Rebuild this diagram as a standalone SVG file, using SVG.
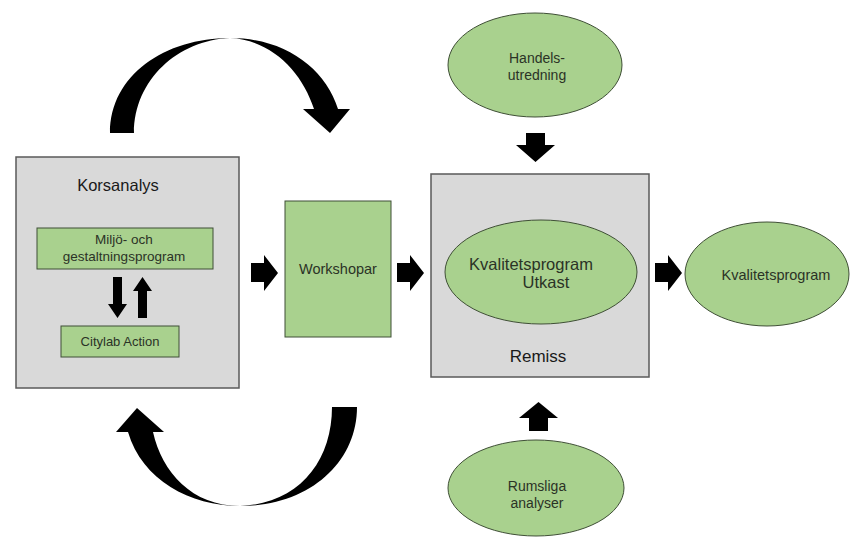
<svg xmlns="http://www.w3.org/2000/svg" width="857" height="539" viewBox="0 0 857 539">
<defs>
<style>
.bg{fill:#ffffff}
.gray{fill:#d9d9d9;stroke:#5a5a5a;stroke-width:1.5}
.green{fill:#a9d18e;stroke:#3f4f36;stroke-width:1}
.lbl{font-family:"Liberation Sans",Arial,sans-serif;fill:#2b3326;text-anchor:middle}
.ttl{font-family:"Liberation Sans",Arial,sans-serif;fill:#1a1a1a;text-anchor:middle}
.arr{fill:#000000}
</style>
</defs>
<rect class="bg" x="0" y="0" width="857" height="539"/>

<g id="korsanalys">
<rect class="gray" x="16" y="157" width="223" height="231"/>
<text class="ttl" x="118" y="191" font-size="16.5">Korsanalys</text>
</g>

<g id="miljo">
<rect class="green" x="37" y="228" width="176" height="41"/>
<text class="lbl" x="124" y="244" font-size="13.5">Miljö- och</text>
<text class="lbl" x="124" y="261" font-size="13.5">gestaltningsprogram</text>
</g>

<g id="citylab">
<rect class="green" x="61" y="326" width="118" height="31"/>
<text class="lbl" x="120" y="346" font-size="13">Citylab Action</text>
</g>

<g id="workshopar">
<rect class="green" x="285" y="201" width="106" height="136"/>
<text class="lbl" x="338" y="274" font-size="14.5">Workshopar</text>
</g>

<g id="remiss">
<rect class="gray" x="431" y="174" width="218" height="203"/>
<text class="ttl" x="538" y="362" font-size="17">Remiss</text>
</g>

<g id="utkast">
<ellipse class="green" cx="541" cy="272" rx="96" ry="52"/>
<text class="lbl" x="531" y="270" font-size="16.5">Kvalitetsprogram</text>
<text class="lbl" x="546" y="288" font-size="16.5">Utkast</text>
</g>

<g id="kvalitetsprogram">
<ellipse class="green" cx="767" cy="274" rx="82" ry="52"/>
<text class="lbl" x="776" y="280" font-size="14.5">Kvalitetsprogram</text>
</g>

<g id="handelsutredning">
<ellipse class="green" cx="535" cy="65" rx="87" ry="52"/>
<text class="lbl" x="537" y="63" font-size="14">Handels-</text>
<text class="lbl" x="537" y="80" font-size="14">utredning</text>
</g>

<g id="rumsliga">
<ellipse class="green" cx="536" cy="488" rx="88" ry="48"/>
<text class="lbl" x="537" y="491" font-size="14">Rumsliga</text>
<text class="lbl" x="537" y="508" font-size="14">analyser</text>
</g>

<g id="connectors">
<path class="arr" d="M110,133 C110,75 165,38 230,38 C285,38 325,68 338,109 L350,109 L330,133 L303,109 L314,109 C302,72 272,40 230,38 C178,40 134,80 134,133 Z"/>
<path class="arr" d="M332,407 L357,407 C357,462 310,506 240,506 C192,506 162,472 153,432 L164,432 L137,408 L116,432 L128,432 C142,480 190,506 240,506 C298,504 332,462 332,407 Z"/>
<path class="arr" d="M113,277 L122,277 L122,304 L127,304 L117.5,318 L108,304 L113,304 Z"/>
<path class="arr" d="M138,318 L147,318 L147,291 L152,291 L142.5,277 L133,291 L138,291 Z"/>
<path class="arr" d="M251,263 L264,263 L264,255 L278,273 L264,291 L264,282 L251,282 Z"/>
<path class="arr" d="M397,263 L410,263 L410,255 L424,273 L410,291 L410,282 L397,282 Z"/>
<path class="arr" d="M655,263 L668,263 L668,255 L682,273 L668,291 L668,282 L655,282 Z"/>
<path class="arr" d="M526,133 L545,133 L545,145 L555,145 L535.5,162 L516,145 L526,145 Z"/>
<path class="arr" d="M529,431 L548,431 L548,418 L558,418 L538.5,402 L519,418 L529,418 Z"/>
</g>
</svg>
